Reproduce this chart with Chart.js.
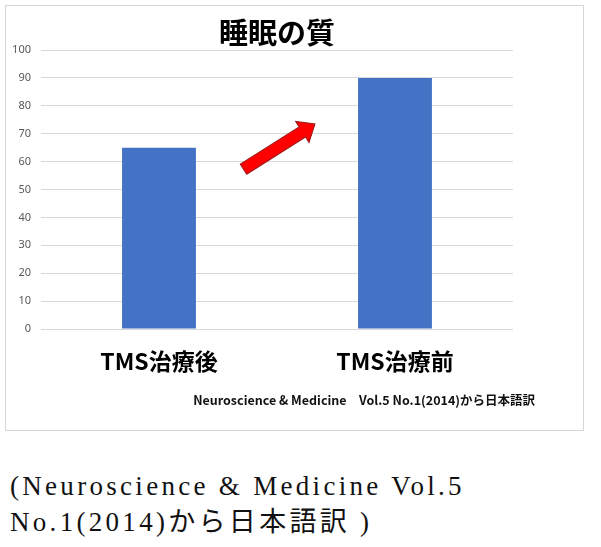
<!DOCTYPE html>
<html>
<head>
<meta charset="utf-8">
<script src="https://cdn.jsdelivr.net/npm/chart.js@4"></script>
<style>
  body { margin: 0; background: #fff; width: 601px; height: 547px; position: relative; overflow: hidden; }
  #frame { position: absolute; left: 5px; top: 5px; width: 577px; height: 424px; border: 1px solid #d6d6d6; }
  #wrap { position: absolute; left: 0; top: 0; width: 601px; height: 440px; }
  #caption {
    position: absolute; left: 10px; top: 468px;
    font-family: "Liberation Serif", "Noto Sans CJK JP", serif;
    font-size: 27px; line-height: 36px; letter-spacing: 3.3px; color: #111;
  }
</style>
</head>
<body>
<div id="frame"></div>
<div id="wrap"><canvas id="barChart"></canvas></div>
<div id="caption">(Neuroscience &amp; Medicine Vol.5<br>No.1(2014)から日本語訳 )</div>
<script>
// data
const categories = ["TMS治療後", "TMS治療前"];
const sleepQuality = [65, 90];
const yTicks = [0, 10, 20, 30, 40, 50, 60, 70, 80, 90, 100];
const chartTitle = "睡眠の質";
const sourceNote = "Neuroscience & Medicine\u3000Vol.5 No.1(2014)から日本語訳";
// arrow ends in (category index, value)
const arrowFrom = [0.358, 57.3];
const arrowTo = [0.661, 73.5];

// title, source note and red arrow
const extrasPlugin = {
  id: "extras",
  afterDatasetsDraw(chart) {
    const { ctx, scales } = chart;
    const x = scales.x, y = scales.y;
    ctx.save();

    ctx.fillStyle = "#000";
    ctx.textAlign = "center";
    ctx.textBaseline = "middle";
    ctx.font = "bold 29px 'Noto Sans CJK JP'";
    ctx.fillText(chartTitle, 277, 33);

    ctx.textAlign = "right";
    ctx.font = "bold 12.5px 'Noto Sans CJK JP'";
    ctx.fillStyle = "#111";
    ctx.fillText(sourceNote, 535, 400, 342);

    // arrow
    const x0 = x.getPixelForValue(arrowFrom[0]), y0 = y.getPixelForValue(arrowFrom[1]);
    const x1 = x.getPixelForValue(arrowTo[0]), y1 = y.getPixelForValue(arrowTo[1]);
    const ang = Math.atan2(y1 - y0, x1 - x0);
    const len = Math.hypot(x1 - x0, y1 - y0);
    const shaft = 6, head = 12.5, headLen = 15;
    ctx.translate(x0, y0);
    ctx.rotate(ang);
    ctx.beginPath();
    ctx.moveTo(0, -shaft);
    ctx.lineTo(len - headLen, -shaft);
    ctx.lineTo(len - headLen, -head);
    ctx.lineTo(len, 0);
    ctx.lineTo(len - headLen, head);
    ctx.lineTo(len - headLen, shaft);
    ctx.lineTo(0, shaft);
    ctx.closePath();
    ctx.fillStyle = "#ff0000";
    ctx.fill();
    ctx.strokeStyle = "#9b1b1b";
    ctx.lineWidth = 1;
    ctx.stroke();
    ctx.restore();
  },
};

function barChart() {
  const ctx = document.getElementById("barChart");
  if (!ctx) return;

  new Chart(ctx, {
    type: "bar",
    data: {
      labels: categories,
      datasets: [
        {
          label: chartTitle,
          data: sleepQuality,
          backgroundColor: "#4472C4",
          categoryPercentage: 1,
          barPercentage: 0.313,
        },
      ],
    },
    options: {
      responsive: true,
      maintainAspectRatio: false,
      animation: false,
      layout: {
        padding: { top: 50, right: 88, bottom: 0, left: 0 },
      },
      plugins: {
        legend: { display: false },
        tooltip: { enabled: false },
      },
      scales: {
        x: {
          grid: { display: false, drawTicks: false },
          border: { display: false },
          ticks: {
            padding: 18,
            color: "#000",
            font: { family: "'Noto Sans CJK JP'", size: 23, weight: "bold" },
          },
          afterFit(scale) { scale.height = 111; },
        },
        y: {
          min: 0,
          max: 100,
          afterBuildTicks(scale) { scale.ticks = yTicks.map((v) => ({ value: v })); },
          grid: { color: "#d9d9d9", lineWidth: 1, drawTicks: false },
          border: { display: false },
          ticks: {
            padding: 10,
            color: "#595959",
            font: { family: "'Noto Sans'", size: 11 },
          },
          afterFit(scale) { scale.width = 41; },
        },
      },
    },
    plugins: [extrasPlugin],
  });
}

barChart();
</script>
</body>
</html>
